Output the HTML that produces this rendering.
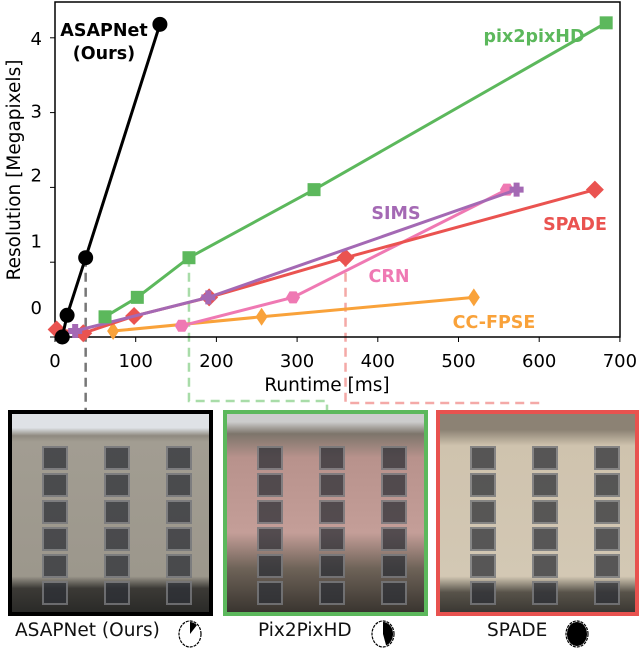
<!DOCTYPE html>
<html><head><meta charset="utf-8"><style>
body{margin:0;background:#fff;width:640px;height:651px;overflow:hidden;font-family:"DejaVu Sans","Liberation Sans",sans-serif;}
svg{position:absolute;left:0;top:0}
.box{position:absolute;top:410px;height:198px;border:4px solid;overflow:hidden}
.win{position:absolute;width:22px;height:20px;background:rgba(45,48,55,.75);border:2px solid rgba(220,220,220,.35)}
.cap{position:absolute;top:620px;font-size:18.5px;color:#111;font-family:"DejaVu Sans",sans-serif}
</style></head><body>
<div class="box" style="left:8px;width:197px;border-color:#000;background:linear-gradient(180deg,#dfe2e6 0 7%,#8f8a80 11%,#a29d92 14%,#9c978c 82%,#3c3a36 88%,#2a2a28)"></div>
<div class="box" style="left:223px;width:197px;border-color:#5cb85c;background:linear-gradient(180deg,#ccc 0 4%,#7d756b 10%,#b8928c 22%,#c49e98 60%,#6e6358 78%,#3a3530)"></div>
<div class="box" style="left:436px;width:195px;border-color:#e8524f;background:linear-gradient(180deg,#8c8274 0 8%,#cfc3ae 16%,#d3c8b4 82%,#58534a 90%,#3b3833)"></div>
<div class="cap" style="left:15px">ASAPNet (Ours)</div>
<div class="cap" style="left:258px">Pix2PixHD</div>
<div class="cap" style="left:487px">SPADE</div>
<svg id="chart" width="640" height="651"></svg>
<script>
const xTicks=[0,100,200,300,400,500,600,700];
const yTicks=[0,1,2,3,4];
const yTickLabelPos=[0.4,1.29,2.17,3.03,4.0];
const asapX=[9,15,38,130], asapY=[0,0.29,1.06,4.18];
const p2pX=[62,102,166,321,683], p2pY=[0.27,0.53,1.06,1.97,4.2];
const spadeX=[2,35,98,191,360,669], spadeY=[0.1,0.05,0.28,0.53,1.06,1.97];
const simsX=[25,190,572], simsY=[0.08,0.53,1.97];
const crnX=[157,295,560], crnY=[0.15,0.53,1.97];
const ccX=[72,256,519], ccY=[0.08,0.27,0.53];
const pieFrac=[0.12,0.45,1.0];

// windows in building images
document.querySelectorAll('.box').forEach(b=>{
 for(let r=0;r<6;r++)for(let c=0;c<3;c++){
  const w=document.createElement('div');w.className='win';
  
  
  w.style.left=(30+c*62)+'px';w.style.top=(32+r*27)+'px';b.appendChild(w);}
});

const X=v=>55+v*0.807, Y=v=>337-v*74.8;
const svg=document.getElementById('chart');const NS='http://www.w3.org/2000/svg';
function mk(t,a,p){const e=document.createElementNS(NS,t);for(const k in a)e.setAttribute(k,a[k]);(p||svg).appendChild(e);return e;}
let d;
d=mk('path',{d:`M${X(38)} ${Y(1.06)} V410`,stroke:'#777',fill:'none','stroke-width':2.5,'stroke-dasharray':'9 6'});


d=mk('path',{d:`M${X(166)} ${Y(1.06)} V401 H327 V410`,stroke:'#a8dca8',fill:'none','stroke-width':2.5,'stroke-dasharray':'9 6'});


d=mk('path',{d:`M${X(360)} ${Y(1.06)} V403 H538 V410`,stroke:'#f4a9a7',fill:'none','stroke-width':2.5,'stroke-dasharray':'9 6'});


d=mk('rect',{x:55,y:2,width:565,height:335,fill:'none',stroke:'#000','stroke-width':1.5});


xTicks.forEach(v=>{mk('line',{x1:X(v),x2:X(v),y1:337,y2:342,stroke:'#000'});
const t=mk('text',{x:X(v),y:367,'text-anchor':'middle','font-size':18});t.textContent=v;

});
yTicks.forEach((v,i)=>{mk('line',{x1:50,x2:55,y1:Y(v),y2:Y(v),stroke:'#000'});
const t=mk('text',{x:42,y:Y(yTickLabelPos[i])+7,'text-anchor':'end','font-size':18});t.textContent=v;

});
let t=mk('text',{x:327,y:391,'text-anchor':'middle','font-size':18.5});t.textContent='Runtime [ms]';


t=mk('text',{x:0,y:0,'text-anchor':'middle','font-size':18.5,transform:'translate(20,170) rotate(-90)'});t.textContent='Resolution [Megapixels]';


function marker(kind,x,y,c,g){
 if(kind==='circle')return mk('circle',{cx:x,cy:y,r:7.5,fill:c},g);
 if(kind==='square')return mk('rect',{x:x-6.5,y:y-6.5,width:13,height:13,fill:c},g);
 if(kind==='diamond')return mk('path',{d:`M${x} ${y-9}L${x+9} ${y}L${x} ${y+9}L${x-9} ${y}Z`,fill:c},g);
 if(kind==='thin')return mk('path',{d:`M${x} ${y-9}L${x+6} ${y}L${x} ${y+9}L${x-6} ${y}Z`,fill:c},g);
 if(kind==='plus')return mk('path',{d:`M${x-3} ${y-7}h6v4h4v6h-4v4h-6v-4h-4v-6h4z`,fill:c},g);
 if(kind==='hex')return mk('path',{d:`M${x-7} ${y}L${x-3.5} ${y-6}L${x+3.5} ${y-6}L${x+7} ${y}L${x+3.5} ${y+6}L${x-3.5} ${y+6}Z`,fill:c},g);
}
function series(name,xs,ys,c,kind){
 const g=mk('g',{});
 
 
 mk('polyline',{points:xs.map((v,i)=>X(v)+','+Y(ys[i])).join(' '),fill:'none',stroke:c,'stroke-width':3},g);
 xs.forEach((v,i)=>{const m=marker(kind,X(v),Y(ys[i]),c,g);
 
 });
}
series('cc-fpse',ccX,ccY,'#f9a23a','thin');
series('crn',crnX,crnY,'#ef79b3','hex');
series('spade',spadeX,spadeY,'#ea5350','diamond');
series('sims',simsX,simsY,'#a469b4','plus');
series('pix2pixhd',p2pX,p2pY,'#5cb85c','square');
series('asapnet',asapX,asapY,'#000','circle');
function lab(txt,x,y,c,n){const e=mk('text',{x:x,y:y,'text-anchor':'middle','font-size':17.5,'font-weight':'bold',fill:c});e.textContent=txt;

}
lab('ASAPNet',104,36,'#000','asapnet-label');lab('(Ours)',104,59,'#000','asapnet-label-ours');
lab('pix2pixHD',534,42,'#5cb85c','pix2pixhd-label');
lab('SIMS',396,219,'#a469b4','sims-label');
lab('SPADE',575,230,'#ea5350','spade-label');
lab('CRN',389,282,'#ef79b3','crn-label');
lab('CC-FPSE',494,328,'#f9a23a','cc-fpse-label');
[[190,634],[383,634],[577,634]].forEach((p,i)=>{
 const g=mk('g',{});
 
 
 mk('ellipse',{cx:p[0],cy:p[1],rx:11,ry:13,fill:'#fff',stroke:'#000','stroke-width':1.2,'stroke-dasharray':'3 1'},g);
 const f=pieFrac[i];
 if(f>=1)mk('ellipse',{cx:p[0],cy:p[1],rx:10,ry:12,fill:'#000'},g);
 else{const a=f*2*Math.PI;const ex=p[0]+10*Math.sin(a),ey=p[1]-12*Math.cos(a);
 mk('path',{d:`M${p[0]} ${p[1]}L${p[0]} ${p[1]-12}A10 12 0 ${f>0.5?1:0} 1 ${ex} ${ey}Z`,fill:'#000'},g);}
});
</script>
</body></html>
